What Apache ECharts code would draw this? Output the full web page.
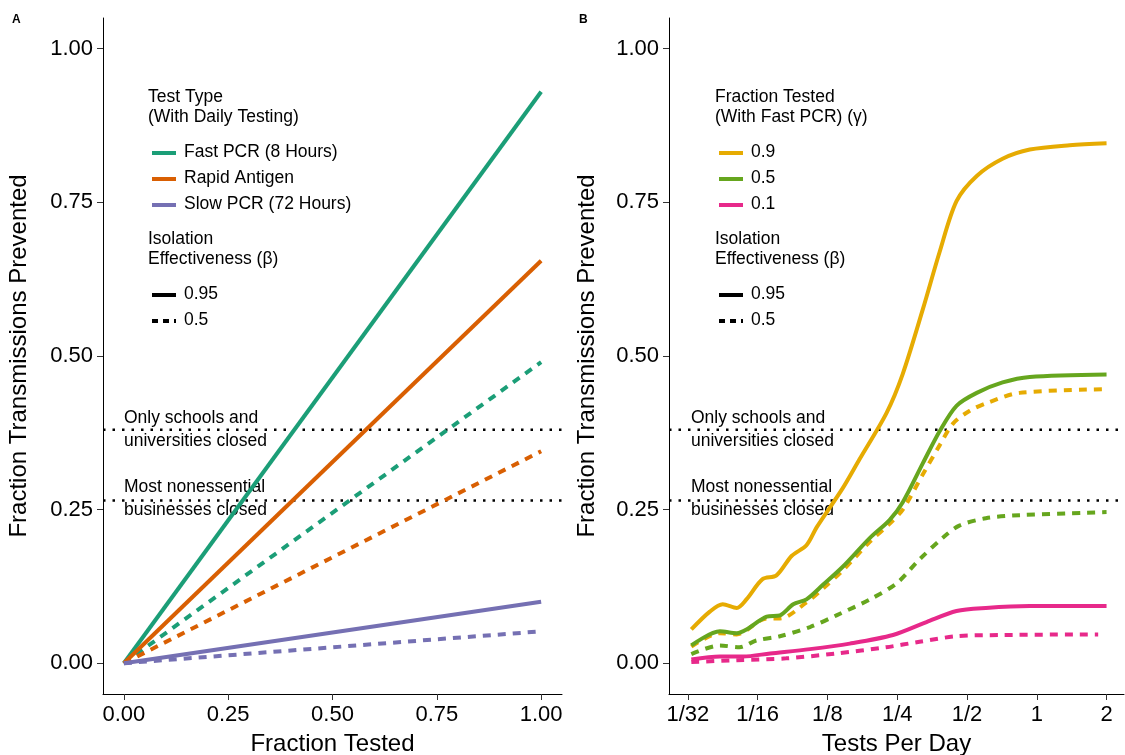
<!DOCTYPE html>
<html><head><meta charset="utf-8">
<script src="https://cdn.jsdelivr.net/npm/echarts@6/dist/echarts.min.js"></script>
<style>html,body{margin:0;padding:0;background:#fff}#c{width:1125px;height:755px}</style>
</head><body><div id="c"></div>
<script>
// Panel A: end values at fraction tested = 1 (lines start at 0)
const fracTested = [0, 1];
const fastPCR95 = [0, 0.93], fastPCR50 = [0, 0.49];
const antigen95 = [0, 0.655], antigen50 = [0, 0.345];
const slowPCR95 = [0, 0.10], slowPCR50 = [0, 0.052];
// Panel B: x is log2(tests per day)
const g09s_x = [-4.95,-4.685,-4.5,-4.3,-4.16,-3.93,-3.73,-3.51,-3.3,-3.15,-2.78,-2.54,-2.15,-1.92,-1.63,-1.39,-1.15,-0.86,-0.49,-0.1,0.47,1.0];
const g09s_y = [0.055,0.084,0.096,0.090,0.104,0.137,0.143,0.175,0.192,0.222,0.285,0.332,0.408,0.471,0.577,0.670,0.752,0.793,0.821,0.836,0.843,0.846];
const g09d_x = [-4.95,-4.54,-4.3,-3.87,-3.68,-3.3,-3.06,-2.78,-2.39,-2.11,-1.92,-1.63,-1.39,-1.2,-0.96,-0.68,-0.25,1.0];
const g09d_y = [0.027,0.049,0.047,0.073,0.073,0.099,0.122,0.151,0.198,0.227,0.250,0.308,0.355,0.390,0.411,0.425,0.440,0.446];
const g05s_x = [-4.95,-4.54,-4.3,-4.16,-3.87,-3.68,-3.49,-3.3,-3.06,-2.78,-2.39,-2.11,-1.92,-1.63,-1.39,-1.15,-0.86,-0.49,-0.1,1.0];
const g05s_y = [0.029,0.052,0.049,0.055,0.076,0.078,0.096,0.104,0.128,0.157,0.204,0.233,0.262,0.326,0.378,0.419,0.440,0.457,0.466,0.470];
const g05d_x = [-4.95,-4.54,-4.26,-4.02,-3.68,-3.25,-2.87,-2.39,-2.01,-1.68,-1.35,-1.11,-0.73,-0.25,1.0];
const g05d_y = [0.015,0.029,0.026,0.037,0.044,0.059,0.078,0.104,0.130,0.169,0.204,0.224,0.236,0.241,0.246];
const g01s_x = [-4.95,-4.54,-4.21,-3.82,-3.25,-2.68,-2.06,-1.58,-1.15,-0.73,-0.1,1.0];
const g01s_y = [0.006,0.011,0.011,0.016,0.023,0.032,0.046,0.067,0.085,0.090,0.093,0.093];
const g01d_x = [-4.95,-4.3,-3.59,-2.87,-2.16,-1.68,-1.15,-0.49,0.88];
const g01d_y = [0.002,0.005,0.008,0.016,0.026,0.035,0.044,0.046,0.047];
const xTicksA = [0,0.25,0.5,0.75,1];
const yTicks = [0,0.25,0.5,0.75,1];
const xTicksB = [-5,-4,-3,-2,-1,0,1];
const xTickLabelsB = ['1/32','1/16','1/8','1/4','1/2','1','2'];
const refLevels = [0.38, 0.265];
const refText = [['Only schools and','universities closed'],['Most nonessential','businesses closed']];

const zip = (xs, ys) => xs.map((x, i) => [x, ys[i]]);
const F = 'Liberation Sans, Arial, sans-serif';
const dash = [8, 7];
function mkSeries(name, data, color, dashed, idx) {
  return {type:'line', name, data, xAxisIndex:idx, yAxisIndex:idx, symbol:'none', smooth: idx===1 ? 0.3 : false,
    lineStyle:{color, width:4, type: dashed ? dash : 'solid', cap:'butt'}, z:3};
}
function refSeries(idx, xmin, xmax) {
  return refLevels.map(v => ({type:'line', data:[[xmin,v],[xmax,v]], xAxisIndex:idx, yAxisIndex:idx, symbol:'none',
    lineStyle:{color:'#000', width:2.5, type:[2.5,7]}, z:2, silent:true}));
}
const axisCommon = {axisLine:{show:true, onZero:false, lineStyle:{color:'#000', width:1}}, splitLine:{show:false},
  axisTick:{show:true, length:6, lineStyle:{color:'#333'}}, axisLabel:{color:'#000', fontSize:22, fontFamily:F}};
const yAxisOf = idx => Object.assign({}, axisCommon, {type:'value', gridIndex:idx, min:-0.05, max:1.05,
  name:'Fraction Transmissions Prevented', nameLocation:'middle', nameGap:idx?70:72,
  nameTextStyle:{fontSize:24, fontFamily:F, color:'#000'},
  axisTick:{show:true, length:6, customValues:yTicks, lineStyle:{color:'#333'}},
  axisLabel:{color:'#000', fontSize:22, fontFamily:F, customValues:yTicks, formatter:v=>v.toFixed(2), margin:10}});

const graphic = [];
const FS = 17.5;
function txt(x, y, t, size, extra) {
  graphic.push({type:'text', left:x, top:y, style:Object.assign({text:t, font:`${size}px ${F}`, fill:'#000'}, extra||{})});
}
function seg(x, y, color, dashed) {
  graphic.push({type:'line', shape:{x1:x, y1:y, x2:x+24, y2:y}, style:{stroke:color, lineWidth:4, lineDash: dashed ? [6,5] : null}});
}
txt(12, 14, 'A', 15, {fontWeight:'bold'}); txt(579, 14, 'B', 15, {fontWeight:'bold'});
function legend(ox, t1, t2, items) {
  txt(ox, 88, t1, FS); txt(ox, 108, t2, FS);
  items.forEach((it, i) => { seg(ox+4, 153+26*i, it[1], false); txt(ox+36, 143+26*i, it[0], FS); });
  txt(ox, 230, 'Isolation', FS); txt(ox, 250, 'Effectiveness (β)', FS);
  seg(ox+4, 295, '#000', false); txt(ox+36, 285, '0.95', FS);
  seg(ox+4, 321, '#000', true); txt(ox+36, 311, '0.5', FS);
}
legend(148, 'Test Type', '(With Daily Testing)', [['Fast PCR (8 Hours)','#1b9e77'],['Rapid Antigen','#d95f02'],['Slow PCR (72 Hours)','#7570b3']]);
legend(715, 'Fraction Tested', '(With Fast PCR) (γ)', [['0.9','#e6ab02'],['0.5','#66a61e'],['0.1','#e7298a']]);
[124, 691].forEach(x => {
  txt(x, 409, refText[0][0], FS); txt(x, 432, refText[0][1], FS);
  txt(x, 478, refText[1][0], FS); txt(x, 501, refText[1][1], FS);
});

const chart = echarts.init(document.getElementById('c'));
chart.setOption({
  animation:false, backgroundColor:'#fff',
  grid:[{left:103, width:459, top:18, bottom:61, outerBoundsMode:'none'}, {left:669, width:455, top:18, bottom:61, outerBoundsMode:'none'}],
  xAxis:[
    Object.assign({}, axisCommon, {type:'value', gridIndex:0, min:-0.05, max:1.05, name:'Fraction Tested', nameLocation:'middle', nameGap:38,
      nameTextStyle:{fontSize:24, fontFamily:F, color:'#000'},
      axisTick:{show:true, length:6, customValues:xTicksA, lineStyle:{color:'#333'}},
      axisLabel:{color:'#000', fontSize:22, fontFamily:F, customValues:xTicksA, formatter:v=>v.toFixed(2), margin:10}}),
    Object.assign({}, axisCommon, {type:'value', gridIndex:1, min:-5.27, max:1.25, name:'Tests Per Day', nameLocation:'middle', nameGap:38,
      nameTextStyle:{fontSize:24, fontFamily:F, color:'#000'},
      axisTick:{show:true, length:6, customValues:xTicksB, lineStyle:{color:'#333'}},
      axisLabel:{color:'#000', fontSize:22, fontFamily:F, customValues:xTicksB, formatter:v=>xTickLabelsB[xTicksB.indexOf(Math.round(v))], margin:10}})
  ],
  yAxis:[yAxisOf(0), yAxisOf(1)],
  series:[
    ...refSeries(0, -0.05, 1.05), ...refSeries(1, -5.27, 1.25),
    mkSeries('fp95', zip(fracTested, fastPCR95), '#1b9e77', false, 0),
    mkSeries('fp50', zip(fracTested, fastPCR50), '#1b9e77', true, 0),
    mkSeries('ra95', zip(fracTested, antigen95), '#d95f02', false, 0),
    mkSeries('ra50', zip(fracTested, antigen50), '#d95f02', true, 0),
    mkSeries('sp95', zip(fracTested, slowPCR95), '#7570b3', false, 0),
    mkSeries('sp50', zip(fracTested, slowPCR50), '#7570b3', true, 0),
    mkSeries('g01d', zip(g01d_x, g01d_y), '#e7298a', true, 1),
    mkSeries('g01s', zip(g01s_x, g01s_y), '#e7298a', false, 1),
    mkSeries('g05d', zip(g05d_x, g05d_y), '#66a61e', true, 1),
    mkSeries('g09d', zip(g09d_x, g09d_y), '#e6ab02', true, 1),
    mkSeries('g05s', zip(g05s_x, g05s_y), '#66a61e', false, 1),
    mkSeries('g09s', zip(g09s_x, g09s_y), '#e6ab02', false, 1)
  ],
  graphic
});
</script></body></html>
